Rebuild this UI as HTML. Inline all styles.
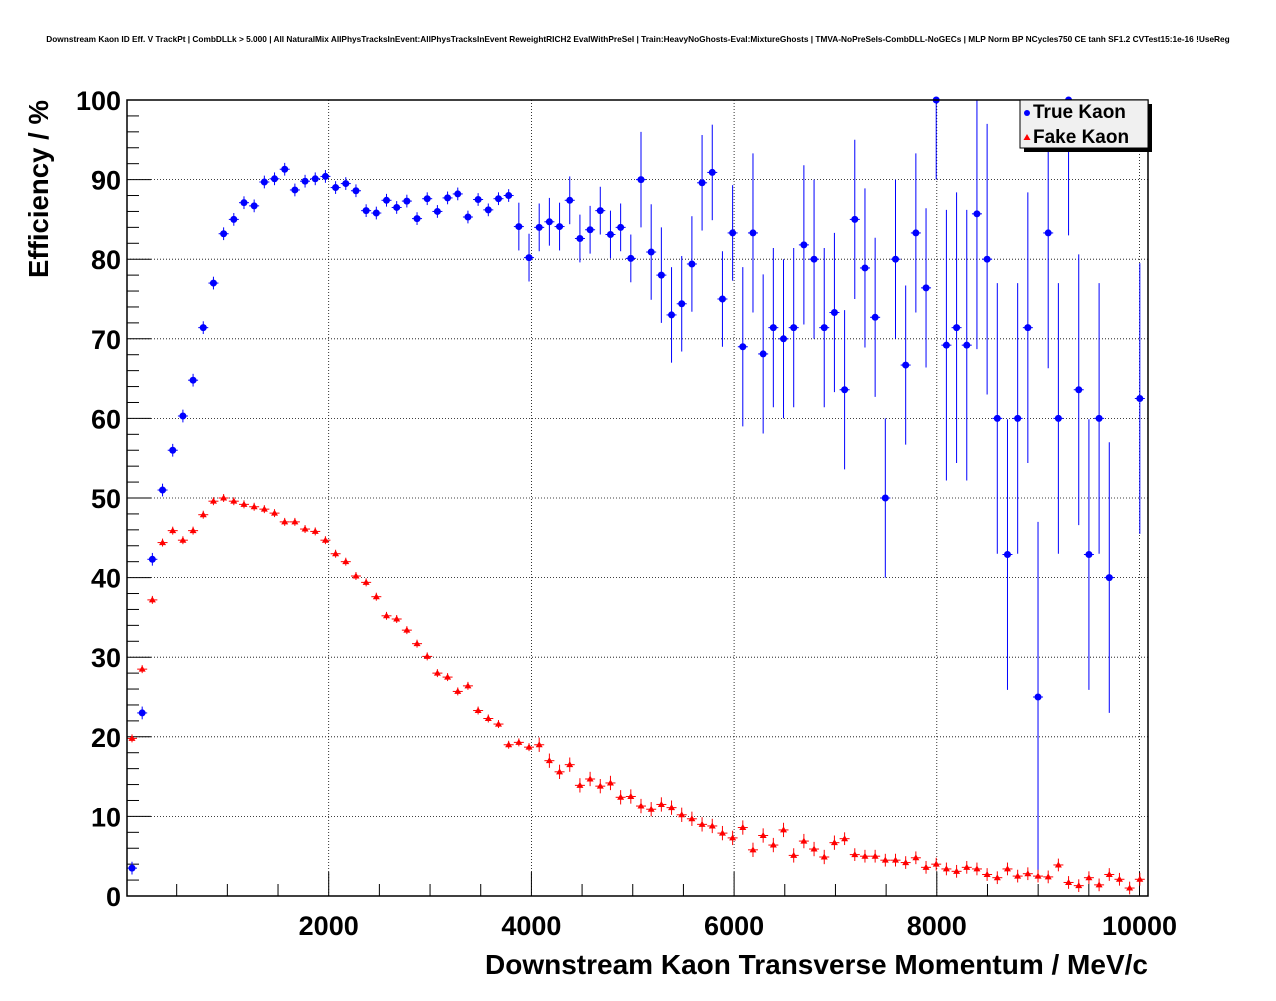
<!DOCTYPE html>
<html><head><meta charset="utf-8"><style>
body{margin:0;background:#fff;}
svg text{font-family:"Liberation Sans",sans-serif;font-weight:bold;}
</style></head><body>
<svg id="s" width="1276" height="996" xmlns="http://www.w3.org/2000/svg">
<text x="638" y="42" font-size="8.3" text-anchor="middle">Downstream Kaon ID Eff. V TrackPt | CombDLLk &gt; 5.000 | All NaturalMix AllPhysTracksInEvent:AllPhysTracksInEvent ReweightRICH2 EvalWithPreSel | Train:HeavyNoGhosts-Eval:MixtureGhosts | TMVA-NoPreSels-CombDLL-NoGECs | MLP Norm BP NCycles750 CE tanh SF1.2 CVTest15:1e-16 !UseReg</text>
<g id="g"></g>
<rect x="127" y="100" width="1021" height="796" fill="none" stroke="#000" stroke-width="1.5"/>
<text x="1148" y="974" font-size="28" text-anchor="end" textLength="663">Downstream Kaon Transverse Momentum / MeV/c</text>
<text transform="translate(48,278) rotate(-90)" font-size="27.5" textLength="178">Efficiency / %</text>
<rect x="1024" y="104" width="128" height="48" fill="#000"/>
<rect x="1020" y="100" width="128" height="48" fill="#f0f0f0" stroke="#000" stroke-width="1"/>
<circle cx="1027" cy="113" r="3" fill="#00f"/>
<polygon points="1027,134 1023.5,140 1030.5,140" fill="#f00"/>
<text x="1033" y="118" font-size="19">True Kaon</text>
<text x="1033" y="143" font-size="19">Fake Kaon</text>
</svg>
<script>
var g=document.getElementById('g'),h='';
var X=function(v){return 126+v*0.10135;},Y=function(v){return 896-v*7.96;};
for(var v=0;v<=100;v+=10){var y=Y(v);
 if(v>0)h+='<line x1="127" x2="1148" y1="'+y+'" y2="'+y+'" stroke="#000" stroke-dasharray="1,2" stroke-width="0.8"/>';
 h+='<line x1="127" x2="151" y1="'+y+'" y2="'+y+'" stroke="#000"/>';
 h+='<text x="121" y="'+(y+10)+'" font-size="27" text-anchor="end">'+v+'</text>';}
for(var v=2;v<100;v+=2){if(v%10)h+='<line x1="127" x2="139" y1="'+Y(v)+'" y2="'+Y(v)+'" stroke="#000"/>';}
for(var v=500;v<=10000;v+=500){var x=X(v);var maj=v%2000==0;
 h+='<line x1="'+x+'" x2="'+x+'" y1="896" y2="'+(maj?872:884)+'" stroke="#000"/>';
 if(maj){h+='<line x1="'+x+'" x2="'+x+'" y1="100" y2="896" stroke="#000" stroke-dasharray="1,2" stroke-width="0.8"/>';
 h+='<text x="'+x+'" y="935" font-size="27" text-anchor="middle">'+v+'</text>';}}
var B=[3.5,23,42.3,51,56,60.3,64.8,71.4,77,83.2,85,87.1,86.7,89.7,90.1,91.3,88.7,89.8,90.1,90.4,89,89.5,88.6,86.1,85.8,87.4,86.5,87.3,85.1,87.6,86,87.7,88.2,85.3,87.5,86.2,87.6,88,84.1,80.2,84,84.7,84.1,87.4,82.6,83.7,86.1,83.1,84,80.1,90,80.9,78,73,74.4,79.4,89.6,90.9,75,83.3,69,83.3,68.1,71.4,70,71.4,81.8,80,71.4,73.3,63.6,85,78.9,72.7,50,80,66.7,83.3,76.4,100,69.2,71.4,69.2,85.7,80,60,42.9,60,71.4,25,83.3,60,100,63.6,42.9,60,40,null,null,62.5];
var R=[19.8,28.5,37.2,44.4,45.9,44.7,45.9,47.9,49.6,50,49.6,49.2,48.9,48.6,48.1,47,47,46.1,45.8,44.7,43,42,40.2,39.4,37.6,35.2,34.8,33.4,31.7,30.1,28,27.5,25.7,26.4,23.3,22.3,21.6,19,19.3,18.7,19,17,15.6,16.5,13.9,14.7,13.8,14.2,12.4,12.5,11.3,10.9,11.5,11.1,10.2,9.7,9,8.8,7.9,7.3,8.6,5.8,7.6,6.4,8.3,5.1,6.9,5.9,4.9,6.7,7.2,5.2,5,5,4.5,4.5,4.2,4.8,3.6,4,3.4,3.1,3.6,3.4,2.7,2.3,3.4,2.5,2.8,2.5,2.4,3.9,1.7,1.3,2.3,1.4,2.7,2.1,1,2.1];
function px(i){return 132+i*10.18;}
B.forEach(function(v,i){if(v==null)return;var x=px(i),y=Y(v);
 var e=i<38?0.8:i<50?3:i<60?6:i<80?10:17; if(i==89)e=22;
 var y1=Math.max(100,Y(Math.min(100,v+e))),y2=Y(Math.max(0,v-e));
 h+='<line x1="'+x+'" x2="'+x+'" y1="'+y1+'" y2="'+y2+'" stroke="#00f"/>';
 h+='<line x1="'+(x-5)+'" x2="'+(x+5)+'" y1="'+y+'" y2="'+y+'" stroke="#00f"/>';
 h+='<circle cx="'+x+'" cy="'+y+'" r="3.5" fill="#00f"/>';});
R.forEach(function(v,i){var x=px(i),y=Y(v);var e=i<40?0.5:i<70?0.9:0.8;
 h+='<line x1="'+x+'" x2="'+x+'" y1="'+Y(v+e)+'" y2="'+Y(v-e)+'" stroke="#f00"/>';
 h+='<line x1="'+(x-5)+'" x2="'+(x+5)+'" y1="'+y+'" y2="'+y+'" stroke="#f00"/>';
 h+='<polygon points="'+x+','+(y-3.5)+' '+(x-3.5)+','+(y+2.5)+' '+(x+3.5)+','+(y+2.5)+'" fill="#f00"/>';});
g.innerHTML=h;
</script>
</body></html>
